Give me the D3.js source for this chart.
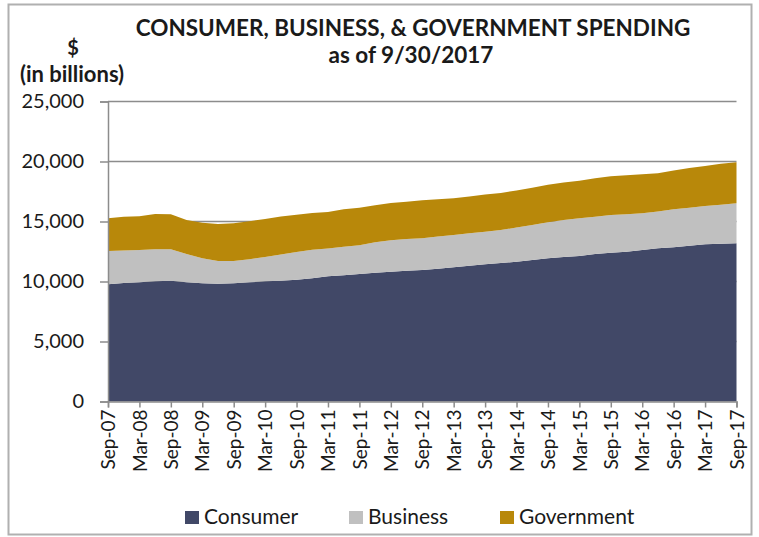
<!DOCTYPE html>
<html>
<head>
<meta charset="utf-8">
<script src="https://cdn.jsdelivr.net/npm/d3@7"></script>
<style>
  html, body { margin: 0; padding: 0; background: #fff; }
  svg { display: block; font-family: Lato, "Open Sans", sans-serif; }
</style>
</head>
<body>
<svg id="chart" width="759" height="537"></svg>
<script>
// Quarterly periods, Sep-07 through Sep-17
const quarters = [
  "Sep-07","Dec-07","Mar-08","Jun-08","Sep-08","Dec-08","Mar-09","Jun-09",
  "Sep-09","Dec-09","Mar-10","Jun-10","Sep-10","Dec-10","Mar-11","Jun-11",
  "Sep-11","Dec-11","Mar-12","Jun-12","Sep-12","Dec-12","Mar-13","Jun-13",
  "Sep-13","Dec-13","Mar-14","Jun-14","Sep-14","Dec-14","Mar-15","Jun-15",
  "Sep-15","Dec-15","Mar-16","Jun-16","Sep-16","Dec-16","Mar-17","Jun-17",
  "Sep-17"
];

// Spending, $ billions
const consumer = [
  9765, 9875, 9930, 10015, 10070, 9930, 9850, 9820, 9850, 9930,
  10015, 10070, 10150, 10265, 10430, 10515, 10625, 10735, 10820, 10900,
  10960, 11070, 11180, 11320, 11430, 11540, 11650, 11790, 11930, 12040,
  12125, 12290, 12400, 12485, 12625, 12765, 12850, 12985, 13100, 13150,
  13180
];
const business = [
  2780, 2700, 2700, 2670, 2610, 2360, 2080, 1890, 1860, 1920,
  2030, 2170, 2310, 2390, 2310, 2390, 2390, 2530, 2610, 2640,
  2640, 2670, 2700, 2700, 2720, 2750, 2840, 2920, 3000, 3090,
  3140, 3110, 3140, 3120, 3060, 3060, 3170, 3170, 3190, 3250,
  3340
];
const government = [
  2730, 2830, 2810, 2950, 2920, 2840, 2970, 3080, 3140, 3170,
  3170, 3170, 3110, 3060, 3060, 3120, 3140, 3090, 3110, 3110,
  3170, 3120, 3060, 3060, 3090, 3090, 3090, 3110, 3140, 3110,
  3140, 3200, 3230, 3250, 3250, 3200, 3220, 3310, 3340, 3420,
  3420
];

const seriesNames = ["Consumer", "Business", "Government"];
const seriesColors = ["#414867", "#c0c0c0", "#b8880a"];
const yTicks = [0, 5000, 10000, 15000, 20000, 25000];

const svg = d3.select("#chart");

// Outer frame
svg.append("rect")
  .attr("x", 8.5).attr("y", 4.5)
  .attr("width", 743).attr("height", 530)
  .attr("fill", "#fff").attr("stroke", "#b0b0b0").attr("stroke-width", 2);

const plot = { left: 108, right: 736.5, top: 101.5, bottom: 401.5 };

const x = d3.scaleLinear()
  .domain([0, quarters.length - 1])
  .range([plot.left, plot.right]);
const y = d3.scaleLinear()
  .domain([0, 25000])
  .range([plot.bottom, plot.top]);

const rows = quarters.map((q, i) => ({
  q, i,
  Consumer: consumer[i],
  Business: business[i],
  Government: government[i]
}));
const stacked = d3.stack().keys(seriesNames)(rows);

// Horizontal gridlines
svg.append("g")
  .selectAll("line")
  .data(yTicks.filter(d => d > 0))
  .join("line")
  .attr("x1", plot.left).attr("x2", plot.right)
  .attr("y1", d => y(d)).attr("y2", d => y(d))
  .attr("stroke", "#8c8c8c").attr("stroke-width", 1.5);

// Stacked areas
const area = d3.area()
  .x(d => x(d.data.i))
  .y0(d => y(d[0]))
  .y1(d => y(d[1]));

svg.append("g")
  .selectAll("path")
  .data(stacked)
  .join("path")
  .attr("d", area)
  .attr("fill", (d, k) => seriesColors[k]);

// Y axis
const yAxis = d3.axisLeft(y)
  .tickValues(yTicks)
  .tickSize(8)
  .tickPadding(16)
  .tickFormat(d3.format(","));
const gy = svg.append("g")
  .attr("transform", `translate(${plot.left},0)`)
  .call(yAxis);
gy.select(".domain").attr("stroke", "#8c8c8c").attr("stroke-width", 1.5);
gy.selectAll(".tick line").attr("stroke", "#8c8c8c").attr("stroke-width", 1.5);
gy.selectAll(".tick text")
  .attr("fill", "#1a1a1a")
  .style("font-size", "20px")
  .style("font-family", "Lato, 'Open Sans', sans-serif");

// X axis: a label every second quarter
const xAxis = d3.axisBottom(x)
  .tickValues(d3.range(0, quarters.length, 2))
  .tickSize(6)
  .tickPadding(4)
  .tickFormat(i => quarters[i]);
const gx = svg.append("g")
  .attr("transform", `translate(0,${plot.bottom})`)
  .call(xAxis);
gx.select(".domain").attr("stroke", "#8c8c8c").attr("stroke-width", 1.5);
gx.selectAll(".tick line").attr("stroke", "#8c8c8c").attr("stroke-width", 1.5);
gx.selectAll(".tick text")
  .attr("fill", "#1a1a1a")
  .style("font-size", "19px")
  .style("font-family", "Lato, 'Open Sans', sans-serif")
  .attr("text-anchor", "end")
  .attr("transform", "rotate(-90)")
  .attr("x", -8)
  .attr("y", 0)
  .attr("dy", "0.35em");

// Title, two lines
const titleLines = [
  { text: "CONSUMER, BUSINESS, & GOVERNMENT SPENDING", x: 413, y: 36 },
  { text: "as of 9/30/2017", x: 411, y: 63 }
];
svg.append("g")
  .selectAll("text")
  .data(titleLines)
  .join("text")
  .attr("x", d => d.x).attr("y", d => d.y)
  .attr("text-anchor", "middle")
  .attr("font-weight", "bold")
  .attr("font-size", 22.5)
  .attr("fill", "#1a1a1a")
  .text(d => d.text);

// Unit label
svg.append("text")
  .attr("x", 73).attr("y", 55)
  .attr("text-anchor", "middle")
  .attr("font-weight", "bold").attr("font-size", 20)
  .attr("fill", "#1a1a1a")
  .text("$");
svg.append("text")
  .attr("x", 72).attr("y", 82)
  .attr("text-anchor", "middle")
  .attr("font-weight", "bold").attr("font-size", 22)
  .attr("fill", "#1a1a1a")
  .text("(in billions)");

// Legend
const legendX = [185, 349, 500];
const legend = svg.append("g")
  .selectAll("g")
  .data(seriesNames)
  .join("g")
  .attr("transform", (d, k) => `translate(${legendX[k]},511)`);
legend.append("rect")
  .attr("width", 14).attr("height", 13)
  .attr("fill", (d, k) => seriesColors[k]);
legend.append("text")
  .attr("x", 19).attr("y", 13)
  .attr("font-size", 21)
  .attr("fill", "#1a1a1a")
  .text(d => d);
</script>
</body>
</html>
